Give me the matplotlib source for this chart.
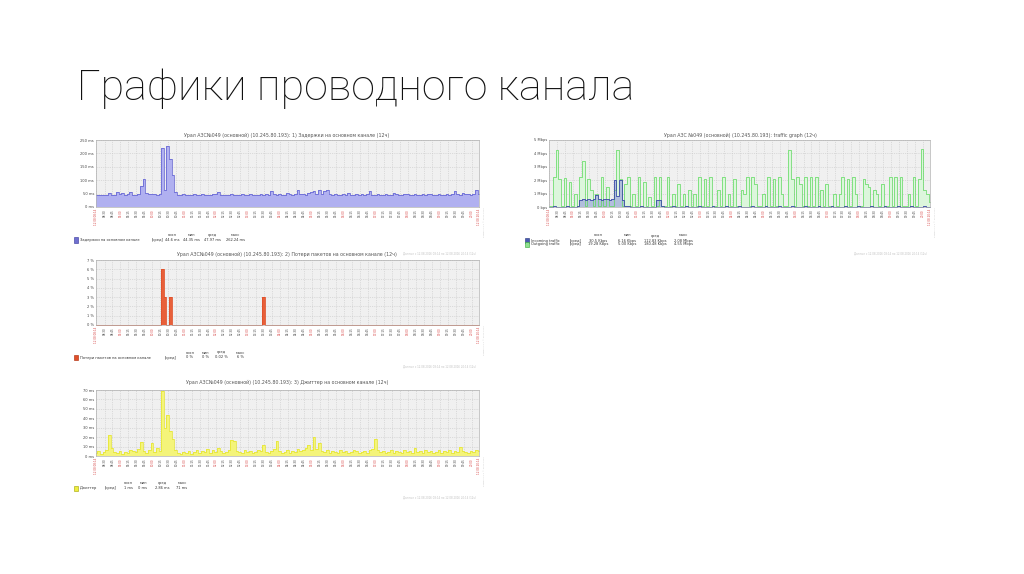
import numpy as np
import pandas as pd
import matplotlib
matplotlib.use("Agg")
import matplotlib.pyplot as plt
import matplotlib.dates as mdates
from matplotlib.patches import Rectangle

W, H = 1024, 574

# 5-minute samples over 12 hours (145 points)
latency_ms = [
    45, 46, 44, 46, 45, 52, 46, 45, 55, 50,
    52, 46, 47, 55, 46, 45, 48, 80, 105, 52,
    47, 50, 48, 46, 49, 222, 62, 228, 178, 120,
    55, 46, 45, 47, 46, 45, 46, 48, 45, 46,
    47, 45, 46, 45, 47, 48, 55, 46, 45, 46,
    45, 47, 46, 45, 46, 48, 46, 45, 47, 46,
    45, 46, 47, 45, 48, 46, 58, 47, 45, 50,
    46, 45, 52, 47, 46, 48, 62, 50, 47, 46,
    52, 55, 60, 48, 62, 50, 58, 64, 47, 46,
    48, 46, 45, 47, 46, 52, 46, 45, 47, 46,
    48, 46, 47, 58, 46, 45, 50, 46, 45, 47,
    46, 45, 52, 47, 46, 45, 48, 50, 46, 45,
    47, 46, 45, 48, 46, 47, 50, 46, 45, 47,
    46, 45, 48, 46, 47, 58, 48, 46, 52, 47,
    50, 46, 48, 65, 47,
]

traffic_out_mbps = [
    0.05, 0.08, 2.25, 4.25, 2.1, 0.06, 2.2, 0.05, 1.9, 0.07,
    1.0, 0.06, 2.25, 3.4, 0.08, 2.1, 1.25, 0.1, 1.0, 0.08,
    2.25, 0.07, 1.5, 0.06, 0.1, 1.25, 4.25, 2.1, 0.08, 1.75,
    2.25, 0.05, 1.0, 0.06, 2.25, 0.07, 1.9, 0.05, 0.75, 0.06,
    2.25, 0.05, 2.25, 0.08, 0.06, 2.25, 0.05, 1.0, 0.07, 1.75,
    0.05, 1.0, 0.06, 1.25, 0.05, 1.0, 0.07, 2.25, 0.06, 2.1,
    0.06, 2.25, 0.05, 0.07, 1.25, 0.05, 2.25, 0.06, 1.0, 0.05,
    2.1, 0.06, 0.05, 1.25, 1.0, 2.25, 0.06, 2.25, 1.75, 0.06,
    0.05, 1.0, 0.07, 2.25, 0.05, 2.1, 0.06, 2.25, 1.0, 0.05,
    0.07, 4.25, 2.1, 0.06, 2.25, 1.75, 0.05, 2.25, 0.06, 2.25,
    0.05, 2.25, 0.07, 1.25, 0.05, 1.75, 0.06, 0.05, 1.0, 0.07,
    1.0, 2.25, 0.05, 2.1, 0.06, 2.25, 1.0, 0.05, 0.07, 2.1,
    1.75, 1.5, 0.06, 1.25, 1.0, 0.05, 1.75, 0.06, 0.05, 2.25,
    0.07, 2.25, 0.05, 2.25, 0.06, 0.05, 1.0, 0.07, 2.25, 0.06,
    2.1, 4.3, 1.25, 1.0, 0.4,
]

traffic_in_mbps = [
    0.03, 0.02, 0.04, 0.03, 0.02, 0.03, 0.02, 0.04, 0.03, 0.02,
    0.03, 0.05, 0.55, 0.56, 0.55, 0.57, 0.55, 0.56, 0.9, 0.56,
    0.55, 0.57, 0.56, 0.55, 0.58, 2.05, 0.8, 2.0, 0.5, 0.08,
    0.04, 0.03, 0.02, 0.03, 0.02, 0.04, 0.03, 0.02, 0.03, 0.02,
    0.03, 0.5, 0.52, 0.04, 0.02, 0.03, 0.02, 0.04, 0.03, 0.02,
    0.03, 0.02, 0.04, 0.03, 0.02, 0.03, 0.02, 0.04, 0.03, 0.02,
    0.03, 0.02, 0.04, 0.03, 0.02, 0.03, 0.02, 0.04, 0.03, 0.02,
    0.03, 0.02, 0.04, 0.03, 0.02, 0.03, 0.02, 0.04, 0.03, 0.02,
    0.03, 0.02, 0.04, 0.03, 0.02, 0.03, 0.02, 0.04, 0.03, 0.02,
    0.03, 0.02, 0.04, 0.03, 0.02, 0.03, 0.02, 0.04, 0.03, 0.02,
    0.03, 0.02, 0.04, 0.03, 0.02, 0.03, 0.02, 0.04, 0.03, 0.02,
    0.03, 0.02, 0.04, 0.03, 0.02, 0.03, 0.02, 0.04, 0.03, 0.02,
    0.03, 0.02, 0.04, 0.03, 0.02, 0.03, 0.02, 0.04, 0.03, 0.02,
    0.03, 0.02, 0.04, 0.03, 0.02, 0.03, 0.02, 0.04, 0.03, 0.02,
    0.03, 0.02, 0.04, 0.03, 0.03,
]

loss_pct = [0] * 145
loss_pct[25] = 6
loss_pct[26] = 3
loss_pct[28] = 3
loss_pct[63] = 3

jitter_ms = [
    3, 5, 2, 4, 6, 22, 8, 4, 3, 5,
    2, 4, 3, 6, 5, 4, 7, 15, 5, 3,
    6, 14, 4, 8, 5, 69, 30, 44, 26, 18,
    6, 3, 2, 4, 3, 5, 2, 4, 6, 3,
    5, 4, 7, 3, 6, 4, 9, 5, 3, 4,
    6, 17, 16, 5, 4, 3, 6, 4, 5, 3,
    4, 6, 5, 12, 4, 3, 5, 7, 16, 5,
    3, 4, 6, 3, 5, 4, 7, 5, 6, 8,
    12, 6, 20, 7, 14, 5, 4, 6, 3, 5,
    4, 3, 6, 4, 5, 3, 4, 6, 5, 3,
    4, 5, 3, 6, 7, 18, 6, 4, 5, 3,
    4, 6, 3, 5, 4, 3, 6, 4, 5, 3,
    8, 4, 5, 3, 6, 4, 5, 3, 4, 6,
    3, 5, 4, 6, 3, 5, 4, 10, 5, 4,
    3, 5, 4, 6, 5,
]

titles = [
    "Урал АЗС№049 (основной) (10.245.80.193): 1) Задержки на основном канале (12ч)",
    "Урал АЗС №049 (основной) (10.245.80.193): traffic graph (12ч)",
    "Урал АЗС№049 (основной) (10.245.80.193): 2) Потери пакетов на основном канале (12ч)",
    "Урал АЗС№049 (основной) (10.245.80.193): 3) Джиттер на основном канале (12ч)",
]

lat_ticks = [0, 50, 100, 150, 200, 250]
lat_labels = ["0 ms", "50 ms", "100 ms", "150 ms", "200 ms", "250 ms"]
trf_ticks = [0, 1, 2, 3, 4, 5]
trf_labels = ["0 bps", "1 Mbps", "2 Mbps", "3 Mbps", "4 Mbps", "5 Mbps"]
loss_ticks = [0, 1, 2, 3, 4, 5, 6, 7]
loss_labels = ["0 %", "1 %", "2 %", "3 %", "4 %", "5 %", "6 %", "7 %"]
jit_ticks = [0, 10, 20, 30, 40, 50, 60, 70]
jit_labels = ["0 ms", "10 ms", "20 ms", "30 ms", "40 ms", "50 ms", "60 ms", "70 ms"]

stat_heads = ["посл", "мин", "сред", "макс"]
lat_stats = ["44.6 ms", "44.35 ms", "47.97 ms", "262.24 ms"]
in_stats = ["30.5 Kbps", "6.16 Kbps", "112.83 Kbps", "2.08 Mbps"]
out_stats = ["19.28 Kbps", "5.00 Kbps", "180.48 Kbps", "4.55 Mbps"]
loss_stats = ["0 %", "0 %", "0.02 %", "6 %"]
jit_stats = ["1 ms", "0 ms", "2.86 ms", "71 ms"]

times = pd.date_range("2016-08-12 08:14", periods=len(latency_ms), freq="5min")
tick_times = pd.date_range("2016-08-12 08:30", "2016-08-12 20:00", freq="15min")
x = mdates.date2num(times.to_pydatetime())

fig = plt.figure(figsize=(W / 100, H / 100), dpi=100)
fig.patch.set_facecolor("white")

SMALL = 2.6
GREY = "#444444"
RED = "#d84a4a"


def fxy(px, py):
    return px / W, 1 - py / H


def make_ax(x0, y0, x1, y1):
    return fig.add_axes([x0 / W, 1 - y1 / H, (x1 - x0) / W, (y1 - y0) / H])


def style(ax, yticks, ylabels):
    ax.set_facecolor("#f0f0f0")
    ax.set_xlim(x[0], x[-1])
    ax.set_ylim(yticks[0], yticks[-1])
    tl = [times[0]] + list(tick_times) + [times[-1]]
    labels = [times[0].strftime("%d.%m %H:%M")]
    labels += [t.strftime("%H:%M") for t in tick_times]
    labels += [times[-1].strftime("%d.%m %H:%M")]
    ax.set_xticks(mdates.date2num([t.to_pydatetime() for t in tl]))
    ax.set_xticklabels(labels, rotation=90, fontsize=2.0, va="top")
    for i, (lab, t) in enumerate(zip(ax.get_xticklabels(), tl)):
        if t.minute == 0 or i == 0 or i == len(tl) - 1:
            lab.set_color(RED)
        else:
            lab.set_color(GREY)
    ax.set_yticks(yticks)
    ax.set_yticklabels(ylabels, fontsize=SMALL, color=GREY)
    ax.tick_params(length=0, pad=1.5)
    ax.grid(True, color="#c8c8c8", lw=0.4, ls=(0, (2, 2)))
    ax.set_axisbelow(True)
    for s in ax.spines.values():
        s.set_color("#b0b0b0")
        s.set_linewidth(0.5)


def area(ax, y, fill, line, lw=0.5, alpha=1.0):
    ax.fill_between(x, 0, y, step="mid", color=fill, lw=0, alpha=alpha)
    ax.plot(x, y, drawstyle="steps-mid", color=line, lw=lw, clip_on=False)


def legend_row(px, py, color, edge, name, sel_x, stats, stat_x, heads=True):
    fig.add_artist(Rectangle(fxy(px, py + 2.5), 4 / W, 5 / H, transform=fig.transFigure,
                             facecolor=color, edgecolor=edge, lw=0.4))
    fig.text(*fxy(px + 6, py), name, fontsize=SMALL, color="#333333", va="center")
    fig.text(*fxy(sel_x, py), "[сред]", fontsize=SMALL, color="#333333", va="center")
    for sx, sv, hd in zip(stat_x, stats, stat_heads):
        fig.text(*fxy(sx, py), sv, fontsize=SMALL, color="#333333", va="center", ha="center")
        if heads:
            fig.text(*fxy(sx, py - 5), hd, fontsize=SMALL, color="#333333", va="center", ha="center")


def extras(x_right, y_top, y_foot):
    fig.text(*fxy(x_right + 5, y_top), "Zabbix 2.2.1 © 2001-2013",
             rotation=90, fontsize=1.6, color="#c8c8c8", va="top", ha="center")
    fig.text(*fxy(x_right - 3, y_foot), "Данные с 12.08.2016 08:14 по 12.08.2016 20:14 (12ч)",
             fontsize=1.9, color="#c0c0c0", va="center", ha="right")


# slide title
fig.text(*fxy(77, 100), "Графики проводного канала", fontsize=31, family="Roboto",
         weight="light", color="#111111", va="baseline")

# 1) latency
ax1 = make_ax(96, 140, 479, 207)
area(ax1, latency_ms, "#b0b0f0", "#5a5ad0")
style(ax1, lat_ticks, lat_labels)
fig.text(*fxy(287, 135), titles[0], fontsize=3.4, color="#555555", ha="center", va="center")
legend_row(74, 240, "#7070d0", "#333399", "Задержки на основном канале", 152,
           lat_stats, [172, 191, 212, 235])
extras(479, 207, 253)

# traffic graph
ax2 = make_ax(549, 140, 930, 207)
area(ax2, traffic_out_mbps, "#dcf6dc", "#5cd85c")
area(ax2, traffic_in_mbps, "#aab4dc", "#3a4aa8", lw=0.6, alpha=0.85)
style(ax2, trf_ticks, trf_labels)
fig.text(*fxy(740, 135), titles[1], fontsize=3.4, color="#555555", ha="center", va="center")
legend_row(525, 240.5, "#4a5ab0", "#22337a", "Incoming traffic", 570,
           in_stats, [598, 627, 655, 683])
legend_row(525, 244.5, "#90e090", "#33aa33", "Outgoing traffic", 570,
           out_stats, [598, 627, 655, 683], heads=False)
extras(930, 207, 253)

# 2) packet loss
ax3 = make_ax(96, 260, 479, 325)
area(ax3, loss_pct, "#e8603a", "#e0502a", lw=0.6)
style(ax3, loss_ticks, loss_labels)
fig.text(*fxy(287, 254), titles[2], fontsize=3.4, color="#555555", ha="center", va="center")
legend_row(74, 357.5, "#e0502a", "#aa2200", "Потери пакетов на основном канале", 165,
           loss_stats, [190, 205, 221, 240])
extras(479, 325, 366)

# 3) jitter
ax4 = make_ax(96, 390, 479, 456)
area(ax4, jitter_ms, "#f4f47a", "#e4e428")
style(ax4, jit_ticks, jit_labels)
fig.text(*fxy(287, 382), titles[3], fontsize=3.4, color="#555555", ha="center", va="center")
legend_row(74, 488, "#eeee40", "#a0a000", "Джиттер", 105,
           jit_stats, [128, 143, 162, 182])
extras(479, 456, 497)

fig.savefig("out.png", dpi=100, facecolor="white")
